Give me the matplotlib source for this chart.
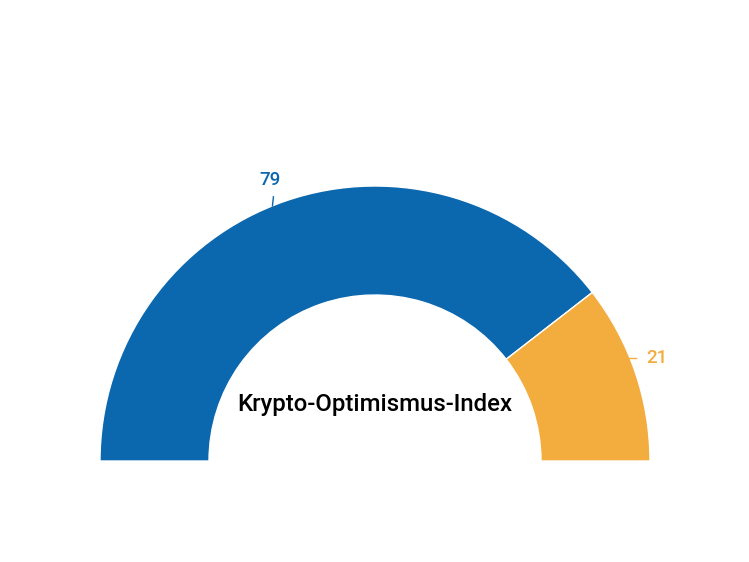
import numpy as np
import matplotlib.pyplot as plt
from matplotlib.patches import Wedge

# data
labels = ['Optimistisch', 'Pessimistisch']
values = [79, 21]
colors = ['#0b67ae', '#f3ac3e']
title = 'Krypto-Optimismus-Index'

W, H = 749, 562
fig = plt.figure(figsize=(W / 100, H / 100), dpi=100)
ax = fig.add_axes([0, 0, 1, 1])
ax.set_xlim(0, W)
ax.set_ylim(0, H)
ax.axis('off')

cx, cy = 375, H - 461
r_out, r_in = 275, 166

total = float(sum(values))
start = 180.0
for v, c in zip(values, colors):
    span = 180.0 * v / total
    end = start - span
    ax.add_patch(Wedge((cx, cy), r_out, end, start, width=r_out - r_in,
                       facecolor=c, edgecolor='white', linewidth=1))
    mid = np.deg2rad((start + end) / 2 + 3)
    x0, y0 = cx + r_out * np.cos(mid), cy + r_out * np.sin(mid)
    if np.cos(mid) > 0.5:
        # horizontal connector on the right
        ax.plot([x0 - 3, x0 + 6], [y0, y0], color=c, lw=1)
        ax.text(x0 + 16, y0, str(v), color=c, fontsize=13.5, fontfamily='Roboto',
                fontweight='medium', ha='left', va='center')
    else:
        x1, y1 = x0 + 1, y0 + 9
        ax.plot([x0, x1], [y0, y1], color=c, lw=1)
        tm = mid - np.deg2rad(1.5)
        ax.text(cx + 300 * np.cos(tm), cy + 300 * np.sin(tm),
                str(v), color=c, fontsize=13.5, fontfamily='Roboto',
                fontweight='medium', ha='center', va='center')
    start = end

ax.text(cx, H - 405, title, fontsize=17.3, fontfamily='Roboto', fontweight='medium',
        color='black', ha='center', va='center')

fig.savefig('out.png', dpi=100)
